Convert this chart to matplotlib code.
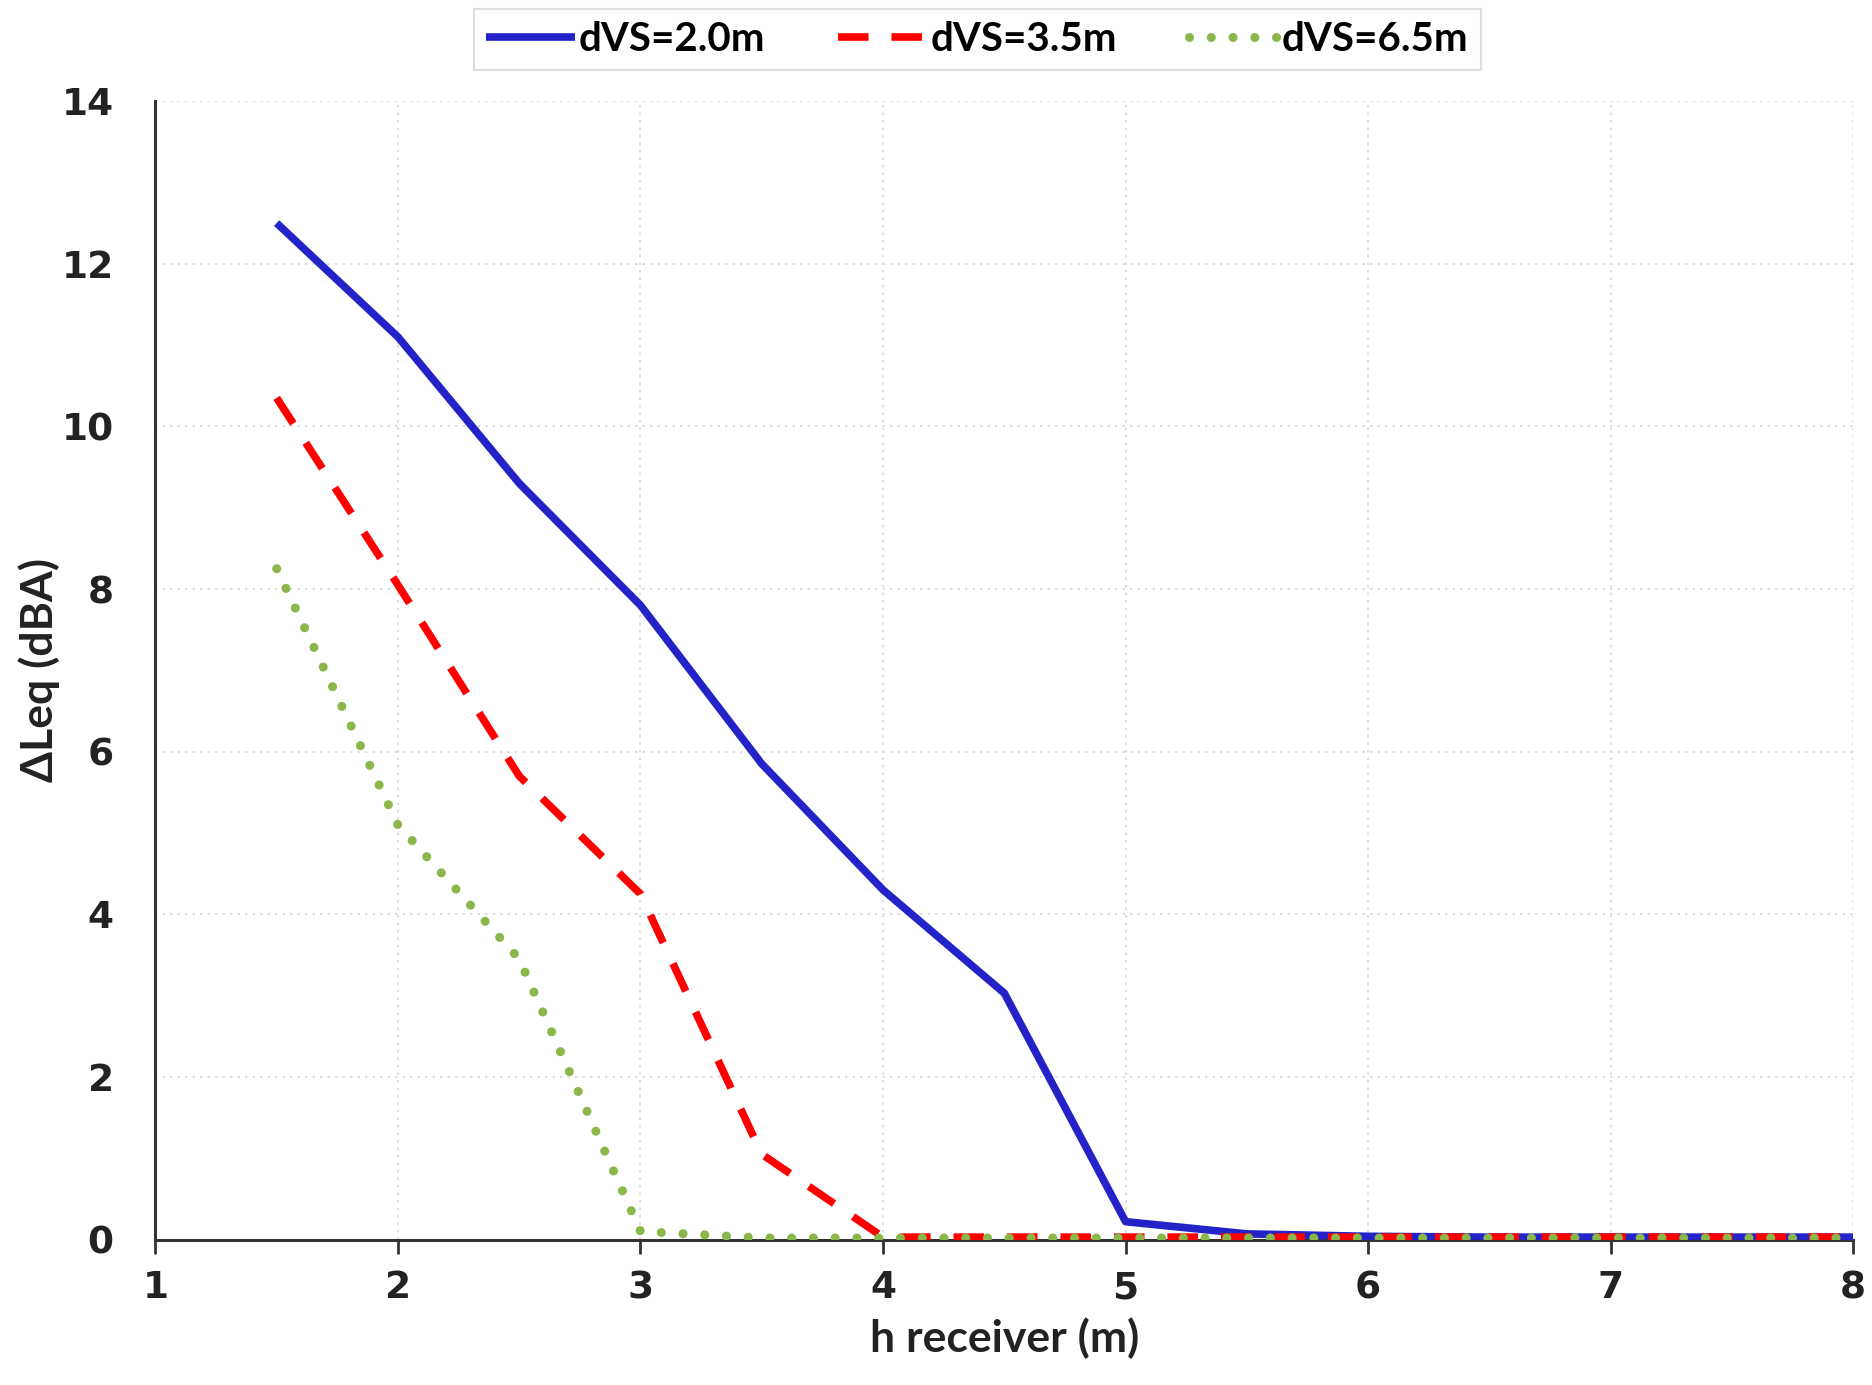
import matplotlib.pyplot as plt

h_receiver = [1.5, 2.0, 2.5, 3.0, 3.5, 4.0, 4.5, 5.0, 5.5, 6.0, 6.5, 7.0, 7.5, 8.0]
dvs_2_0 = [12.5, 11.1, 9.3, 7.8, 5.85, 4.3, 3.03, 0.22, 0.07, 0.04, 0.03, 0.03, 0.03, 0.03]
dvs_3_5 = [10.35, 8.05, 5.7, 4.25, 1.05, 0.03, 0.03, 0.03, 0.03, 0.03, 0.03, 0.03, 0.03, 0.03]
dvs_6_5 = [8.25, 5.1, 3.45, 0.1, 0.02, 0.02, 0.02, 0.02, 0.02, 0.02, 0.02, 0.02, 0.02, 0.02]

label_font = ['Lato', 'DejaVu Sans']

fig = plt.figure(figsize=(18.72, 13.85), dpi=100)
ax = fig.add_axes([0.083, 0.105, 0.907, 0.822])

ax.plot(h_receiver, dvs_2_0, color='#2323C8', lw=5.5, solid_capstyle='butt',
        label='dVS=2.0m', zorder=3)
ax.plot(h_receiver, dvs_3_5, color='#FF0000', lw=5.5, linestyle=(0, (4, 3)),
        label='dVS=3.5m', zorder=4)
ax.plot(h_receiver, dvs_6_5, color='#8AB74A', lw=6.5, linestyle=(0, (0.01, 2.4)),
        dash_capstyle='round', label='dVS=6.5m', zorder=5)

ax.set_xlim(1, 8)
ax.set_ylim(0, 14)
ax.set_xticks(range(1, 9))
ax.set_yticks(range(0, 15, 2))

ax.grid(True, color='#D8D8D8', linestyle=(0, (1.5, 3)), lw=1.2)
ax.set_axisbelow(True)
for s in ['top', 'right']:
    ax.spines[s].set_visible(False)
for s in ['left', 'bottom']:
    ax.spines[s].set_color('#333333')
    ax.spines[s].set_linewidth(2.2)

ax.tick_params(axis='x', direction='out', length=10, width=2, color='#333333', pad=12)
ax.tick_params(axis='y', length=0, pad=30)
for lbl in ax.get_xticklabels() + ax.get_yticklabels():
    lbl.set_fontsize(27)
    lbl.set_fontweight('bold')
    lbl.set_color('#222222')

ax.set_xlabel('h receiver (m)', fontsize=32, fontweight='bold', family=label_font,
              color='#222222', labelpad=8)
ax.set_ylabel('ΔLeq (dBA)', fontsize=32, fontweight='bold', family=label_font,
              color='#222222')
ax.yaxis.set_label_coords(-0.056, 0.5)

leg = fig.legend(loc='upper center', bbox_to_anchor=(0.522, 1.008), ncol=3,
                 frameon=True, fancybox=False, shadow=False, handlelength=2.2,
                 handletextpad=0.1, columnspacing=1.8, borderpad=0.3,
                 prop={'family': label_font, 'weight': 'bold', 'size': 29})
leg.get_frame().set_edgecolor('#D8D8D8')
leg.get_frame().set_linewidth(1.5)

fig.savefig('out.png', dpi=100)
